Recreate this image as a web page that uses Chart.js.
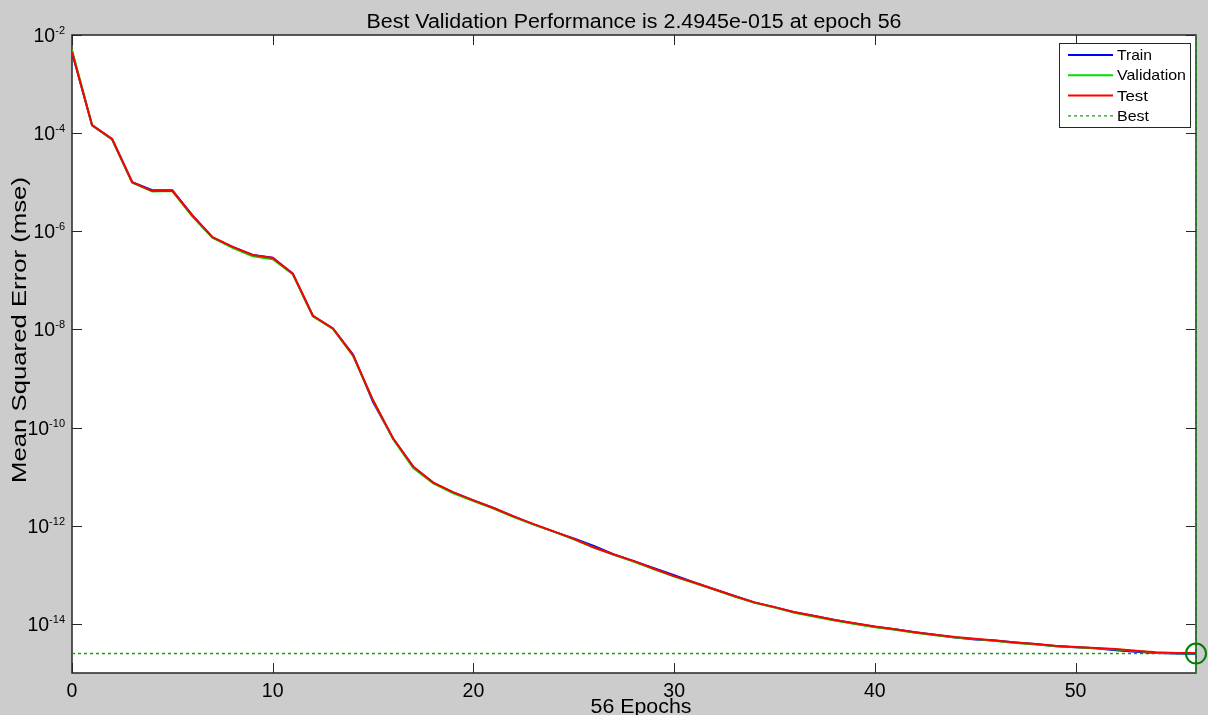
<!DOCTYPE html>
<html>
<head>
<meta charset="utf-8">
<script src="https://cdn.jsdelivr.net/npm/chart.js@4.4.0/dist/chart.umd.min.js"></script>
<style>
  html, body { margin: 0; padding: 0; background: #cccccc; overflow: hidden; }
  #wrap { width: 1208px; height: 715px; position: relative; }
</style>
</head>
<body>
<div id="wrap"><canvas id="perfChart"></canvas></div>
<script>
// epochs 0..56
const epochs = [0,1,2,3,4,5,6,7,8,9,10,11,12,13,14,15,16,17,18,19,20,21,22,23,24,25,26,27,28,29,30,
  31,32,33,34,35,36,37,38,39,40,41,42,43,44,45,46,47,48,49,50,51,52,53,54,55,56];

const trainPerf = [4.4e-3,1.44e-4,7.5e-5,1.0e-5,6.9e-6,6.9e-6,2.1e-6,7.5e-7,4.8e-7,3.3e-7,2.9e-7,1.38e-7,
  1.9e-8,1.05e-8,3.1e-9,3.3e-10,6.0e-11,1.6e-11,7.5e-12,4.8e-12,3.3e-12,2.3e-12,1.55e-12,1.07e-12,7.6e-13,
  5.5e-13,3.9e-13,2.6e-13,1.9e-13,1.36e-13,9.8e-14,7.0e-14,5.1e-14,3.7e-14,2.75e-14,2.2e-14,1.73e-14,1.45e-14,
  1.2e-14,1.02e-14,8.8e-15,7.8e-15,6.8e-15,6.0e-15,5.3e-15,4.8e-15,4.6e-15,4.2e-15,3.9e-15,3.5e-15,3.35e-15,
  3.2e-15,2.9e-15,2.7e-15,2.55e-15,2.5e-15,2.45e-15];

const valPerf = [5.0e-3,1.45e-4,7.4e-5,9.8e-6,6.5e-6,6.6e-6,2.0e-6,7.4e-7,4.6e-7,3.1e-7,2.7e-7,1.33e-7,
  1.85e-8,1.03e-8,2.9e-9,3.6e-10,5.8e-11,1.5e-11,7.3e-12,4.6e-12,3.2e-12,2.25e-12,1.5e-12,1.06e-12,7.6e-13,
  5.3e-13,3.6e-13,2.55e-13,1.85e-13,1.3e-13,9.2e-14,6.8e-14,5.0e-14,3.6e-14,2.7e-14,2.15e-14,1.68e-14,1.4e-14,
  1.17e-14,1.0e-14,8.6e-15,7.6e-15,6.6e-15,5.9e-15,5.3e-15,4.9e-15,4.5e-15,4.1e-15,3.8e-15,3.55e-15,3.35e-15,
  3.2e-15,3.0e-15,2.8e-15,2.6e-15,2.52e-15,2.4945e-15];

const testPerf = [4.5e-3,1.46e-4,7.6e-5,1.0e-5,6.6e-6,6.7e-6,2.1e-6,7.6e-7,4.8e-7,3.3e-7,2.85e-7,1.37e-7,
  1.9e-8,1.05e-8,3.0e-9,3.6e-10,6.0e-11,1.6e-11,7.6e-12,4.8e-12,3.3e-12,2.3e-12,1.55e-12,1.08e-12,7.7e-13,
  5.4e-13,3.6e-13,2.6e-13,1.9e-13,1.33e-13,9.4e-14,7.0e-14,5.1e-14,3.7e-14,2.75e-14,2.2e-14,1.73e-14,1.45e-14,
  1.2e-14,1.03e-14,8.9e-15,7.8e-15,6.8e-15,6.0e-15,5.4e-15,5.0e-15,4.6e-15,4.2e-15,3.9e-15,3.6e-15,3.4e-15,
  3.25e-15,3.1e-15,2.85e-15,2.65e-15,2.55e-15,2.55e-15];

const bestEpoch = 56;
const bestPerf = 2.4945e-15;

const xTicks = [0, 10, 20, 30, 40, 50];
const yTickExps = [-2, -4, -6, -8, -10, -12, -14];
const yMin = 1e-15, yMax = 1e-2;

const FONT = '"Liberation Sans", Arial, Helvetica, sans-serif';

function toPoints(vals) {
  return vals.map((v, i) => ({ x: epochs[i], y: v }));
}

// draw text squeezed/stretched to a given width (matlab export is a bit wide)
function fitText(ctx, text, x, y, size, width, align) {
  ctx.font = size + 'px ' + FONT;
  const w = ctx.measureText(text).width;
  const s = width / w;
  ctx.save();
  ctx.translate(x, y);
  ctx.scale(s, 1);
  ctx.textAlign = align || 'center';
  ctx.fillText(text, 0, 0);
  ctx.restore();
}

const legendTextWidth = { Train: 35, Validation: 69, Test: 31, Best: 32 };

const matlabAxes = {
  id: 'matlabAxes',
  beforeDraw(chart) {
    const { ctx, chartArea: a } = chart;
    ctx.save();
    ctx.fillStyle = '#cccccc';
    ctx.fillRect(0, 0, chart.width, chart.height);
    ctx.fillStyle = '#ffffff';
    ctx.fillRect(a.left, a.top, a.right - a.left, a.bottom - a.top);
    ctx.restore();
  },
  beforeDatasetsDraw(chart) {
    const { ctx, chartArea: a, scales: { x, y } } = chart;
    ctx.save();
    ctx.strokeStyle = '#262626';
    ctx.lineWidth = 1.5;
    ctx.strokeRect(a.left, a.top, a.right - a.left, a.bottom - a.top);

    // tick marks point inward, both sides
    ctx.lineWidth = 1;
    xTicks.forEach(v => {
      const px = Math.round(x.getPixelForValue(v)) + 0.5;
      ctx.beginPath();
      ctx.moveTo(px, a.bottom); ctx.lineTo(px, a.bottom - 10);
      ctx.moveTo(px, a.top); ctx.lineTo(px, a.top + 10);
      ctx.stroke();
    });
    yTickExps.forEach(k => {
      const py = Math.round(y.getPixelForValue(Math.pow(10, k))) + 0.5;
      ctx.beginPath();
      ctx.moveTo(a.left, py); ctx.lineTo(a.left + 10, py);
      ctx.moveTo(a.right, py); ctx.lineTo(a.right - 10, py);
      ctx.stroke();
    });
    ctx.restore();
  },
  afterDraw(chart) {
    const { ctx, chartArea: a, scales: { x, y } } = chart;
    ctx.save();
    ctx.fillStyle = '#000000';

    // x tick labels
    ctx.font = '19.5px ' + FONT;
    ctx.textAlign = 'center';
    ctx.textBaseline = 'alphabetic';
    xTicks.forEach(v => {
      ctx.fillText(String(v), x.getPixelForValue(v), a.bottom + 24);
    });

    // y tick labels 10^k
    yTickExps.forEach(k => {
      const py = y.getPixelForValue(Math.pow(10, k));
      const sup = String(k);
      ctx.font = '11px ' + FONT;
      ctx.textAlign = 'right';
      ctx.fillText(sup, a.left - 7, py - 1);
      const sw = ctx.measureText(sup).width;
      ctx.font = '19.5px ' + FONT;
      ctx.fillText('10', a.left - 7 - sw, py + 7);
    });

    // title and axis labels
    fitText(ctx, 'Best Validation Performance is 2.4945e-015 at epoch 56',
      (a.left + a.right) / 2, 28, 19.5, 535);
    fitText(ctx, '56 Epochs', 641, 713, 19.5, 101);
    ctx.save();
    ctx.translate(26, 330);
    ctx.rotate(-Math.PI / 2);
    fitText(ctx, 'Mean Squared Error (mse)', 0, 0, 19.5, 306);
    ctx.restore();

    // legend box
    const lx = 1059, ly = 43, lw = 131, lh = 84;
    ctx.fillStyle = '#ffffff';
    ctx.fillRect(lx, ly, lw, lh);
    ctx.strokeStyle = '#262626';
    ctx.lineWidth = 1;
    ctx.strokeRect(lx + 0.5, ly + 0.5, lw, lh);
    const items = chart.data.datasets.filter(d => d.label in legendTextWidth);
    items.forEach((d, i) => {
      const yy = 55 + i * 20.3;
      ctx.beginPath();
      ctx.strokeStyle = d.borderColor;
      ctx.lineWidth = d.borderDash ? 1.3 : 2;
      ctx.setLineDash(d.borderDash || []);
      ctx.moveTo(1068, yy); ctx.lineTo(1113, yy);
      ctx.stroke();
      ctx.setLineDash([]);
      ctx.fillStyle = '#000000';
      ctx.textBaseline = 'middle';
      fitText(ctx, d.label, 1117, yy + 1, 15, legendTextWidth[d.label], 'left');
    });
    ctx.restore();
  }
};

const ctx = document.getElementById('perfChart').getContext('2d');
const perfChart = new Chart(ctx, {
  type: 'line',
  data: {
    datasets: [
      {
        label: 'Train', order: 3,
        data: toPoints(trainPerf),
        borderColor: '#0000ff', borderWidth: 2, pointRadius: 0, tension: 0
      },
      {
        label: 'Validation', order: 2,
        data: toPoints(valPerf),
        borderColor: '#00dd00', borderWidth: 2, pointRadius: 0, tension: 0
      },
      {
        label: 'Test', order: 1,
        data: toPoints(testPerf),
        borderColor: '#ff0000', borderWidth: 2, pointRadius: 0, tension: 0
      },
      {
        label: 'Best', order: 4,
        data: [{ x: 0, y: bestPerf }, { x: bestEpoch, y: bestPerf }],
        borderColor: '#1a9c1a', borderWidth: 1.3, borderDash: [3, 3],
        pointRadius: 0, tension: 0
      },
      {
        label: 'bestEpochLine', order: 5,
        data: [{ x: bestEpoch, y: yMin }, { x: bestEpoch, y: yMax }],
        borderColor: '#1a9c1a', borderWidth: 1.5, borderDash: [3, 3],
        pointRadius: 0, tension: 0, clip: 4
      },
      {
        label: 'bestPoint', order: 0,
        data: [{ x: bestEpoch, y: bestPerf }],
        showLine: false, pointRadius: 10, pointStyle: 'circle',
        pointBorderColor: '#008000', pointBackgroundColor: 'rgba(0,0,0,0)',
        pointBorderWidth: 2, clip: false
      }
    ]
  },
  options: {
    responsive: true,
    maintainAspectRatio: false,
    animation: false,
    layout: { padding: { left: 72, right: 11, top: 35, bottom: 42 } },
    plugins: {
      legend: { display: false },
      title: { display: false },
      tooltip: { enabled: false }
    },
    scales: {
      x: { type: 'linear', min: 0, max: 56, display: false },
      y: { type: 'logarithmic', min: yMin, max: yMax, display: false }
    }
  },
  plugins: [matlabAxes]
});
</script>
</body>
</html>
